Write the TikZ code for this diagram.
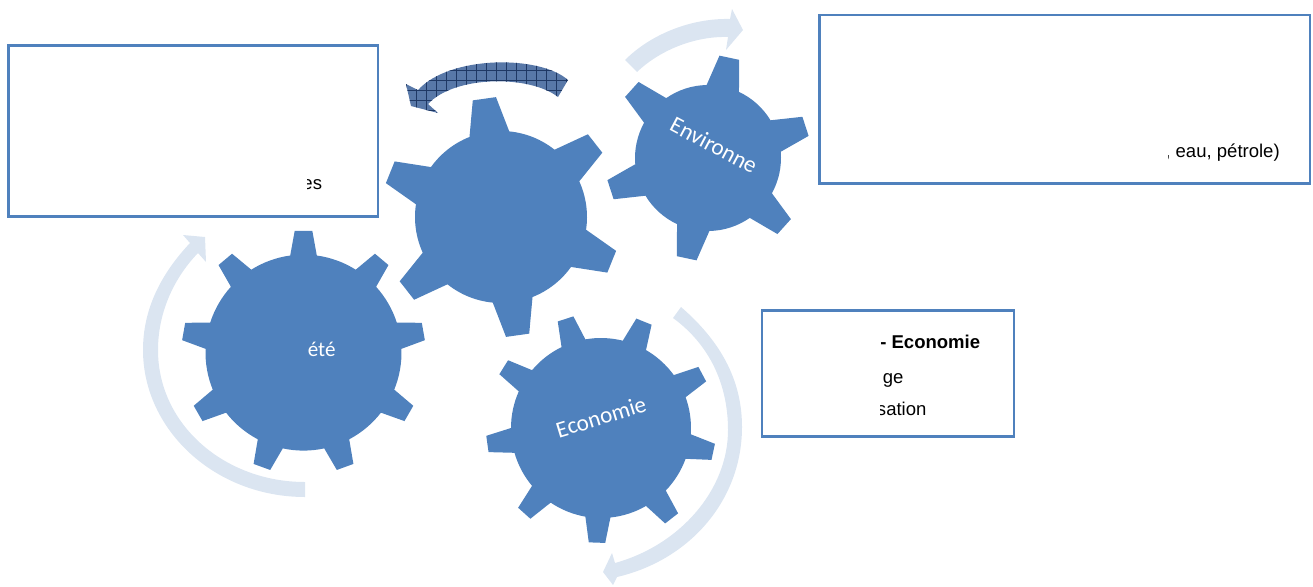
\documentclass[tikz,border=0pt]{standalone}
\usepackage{fontspec}
\setmainfont{Liberation Sans}
\newfontfamily\gearfont{Carlito}
\definecolor{gearblue}{RGB}{79,129,189}
\definecolor{lightarrow}{RGB}{219,229,241}
\definecolor{darkfill}{RGB}{88,120,168}
\definecolor{gridnavy}{RGB}{31,56,100}
\tikzset{
  boxstyle/.style={draw=gearblue, line width=2pt, fill=white, inner sep=0pt},
  boxtext/.style={inner sep=0pt, font=\fontsize{13.9}{16}\selectfont},
  boldtext/.style={inner sep=0pt, font=\fontsize{13.9}{16}\selectfont\bfseries},
  geartext/.style={inner sep=0pt, text=white, font=\gearfont\fontsize{17.4}{19}\selectfont},
  gearfill/.style={fill=gearblue},
  lightarr/.style={fill=lightarrow},
}
% cx, cy, n, offset, r, R, half base angle, half tip angle
\newcommand{\drawgear}[8]{%
  \begin{scope}[shift={(#1,#2)}, yscale=-1]
    \pgfmathsetmacro{\gstep}{360/#3}
    \pgfmathtruncatemacro{\glast}{#3-1}
    \fill[gearfill] ({#4-#7}:#5)
      \foreach \k [evaluate=\k as \a using #4+\k*\gstep] in {0,...,\glast} {
        -- ({\a-#8}:#6) -- ({\a+#8}:#6) -- ({\a+#7}:#5)
        arc[start angle={\a+#7}, end angle={\a+\gstep-#7}, radius=#5]
      } -- cycle;
  \end{scope}}
\begin{document}
\begin{tikzpicture}[x=0.75pt,y=-0.75pt]
\useasboundingbox (0,0) rectangle (1313,586);

% light circular arrows
\fill[lightarr] (625,60) .. controls (650,35) and (690,18) .. (730,19)
  -- (732,9) -- (743,30) -- (726,50) -- (728,37)
  .. controls (695,36) and (660,50) .. (637,72) -- cycle;
\fill[lightarr] (305,497) .. controls (215,497) and (143,430) .. (143,350)
  .. controls (143,310) and (160,275) .. (190,243)
  -- (183,235) -- (205,237) -- (206,262) -- (198,253)
  .. controls (172,280) and (158,315) .. (158,350)
  .. controls (158,425) and (225,482) .. (305,482) -- cycle;
\fill[lightarr] (681,307) .. controls (725,345) and (742,385) .. (742,427)
  .. controls (742,500) and (690,560) .. (617,577)
  -- (613,585) -- (603,572) -- (612,553) -- (615,563)
  .. controls (680,545) and (728,490) .. (728,430)
  .. controls (728,385) and (710,345) .. (673,318) -- cycle;

% hatched dark arrow
\begin{scope}
  \clip (568,80) .. controls (540,55) and (450,55) .. (418,90)
    -- (406,84) -- (411,106) -- (438,113) -- (428,104)
    .. controls (455,75) and (530,75) .. (558,97) -- cycle;
  \fill[darkfill] (400,50) rectangle (575,120);
  \foreach \gx in {406.7,416.7,...,576.7} \draw[gridnavy, line width=0.6pt] (\gx,50) -- (\gx,120);
  \foreach \gy in {60,70,...,120} \draw[gridnavy, line width=0.6pt] (400,\gy) -- (575,\gy);
\end{scope}

% gears
\drawgear{501}{217}{6}{38}{86}{120}{13.5}{5.6}
\drawgear{708}{158}{6}{18}{73}{103}{13.1}{5.6}
\drawgear{303.5}{352.6}{9}{10}{98}{122}{7.8}{4.15}
\drawgear{601}{428}{9}{28}{90}{115}{8}{4.1}

\node[geartext, rotate=-28] (envt) at (714,145) {Environne};
\node[geartext, font=\gearfont\fontsize{15.8}{17}\selectfont, anchor=base] (soct) at (321.7,356.7) {été};
\node[geartext, rotate=17] (ecot) at (601,417) {Economie};

% boxes
\node[boxstyle, minimum width=276.98pt, minimum height=128.1pt] (lbox) at (193.35,130.9) {};
\node[boxstyle, minimum width=367.9pt, minimum height=126.4pt] (rbox) at (1064.75,99.25) {};
\node[boxstyle, minimum width=189pt, minimum height=94.5pt] (mbox) at (888,373.5) {};

\begin{scope}
  \clip (307.5,150) rectangle (370,210);
  \node[boxtext, anchor=base east] (ltext) at (322.3,189) {es};
\end{scope}
\begin{scope}
  \clip (1168,120) rectangle (1300,175);
  \node[boxtext, anchor=base east] (rtext) at (1280,157) {, eau, pétrole)};
\end{scope}
\begin{scope}
  \clip (880.5,320) rectangle (1008,430);
  \node[boldtext, anchor=base west] (mt1) at (880,348.3) {- Economie};
  \node[boxtext, anchor=base west] (mt2) at (882.5,383.3) {ge};
  \node[boxtext, anchor=base east] (mt3) at (926.7,415) {sation};
\end{scope}
\end{tikzpicture}
\end{document}
